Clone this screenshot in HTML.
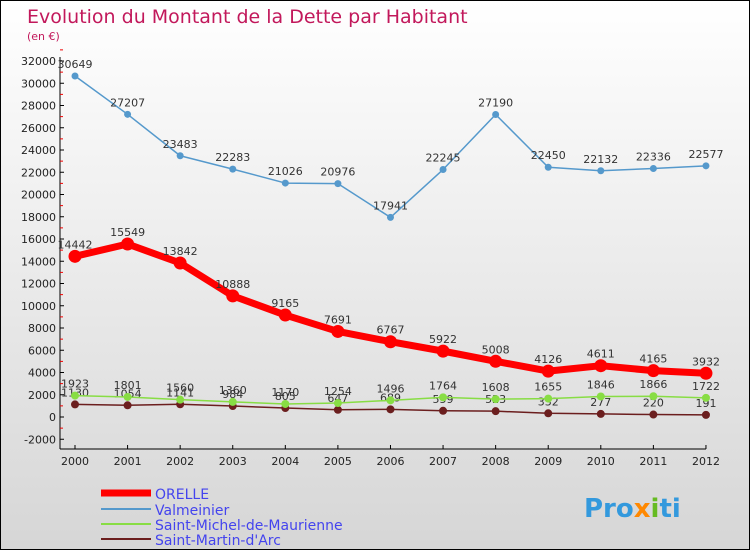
<!DOCTYPE html>
<html><head><meta charset="utf-8"><style>
body{margin:0}
#c{width:748px;height:548px;border:1px solid #000;background:linear-gradient(#ffffff,#d6d6d6);position:relative;font-family:"DejaVu Sans","Liberation Sans",sans-serif;overflow:hidden}
svg text{font-family:"DejaVu Sans","Liberation Sans",sans-serif}
</style></head><body>
<div id="c">
<svg id="s" width="748" height="548" xmlns="http://www.w3.org/2000/svg">
<text x="26" y="22" font-size="19" fill="#c2185b">Evolution du Montant de la Dette par Habitant</text>
<text x="26" y="39" font-size="11" fill="#c2185b">(en €)</text>
<g id="axes"></g><g id="series"></g>
<g>
<line x1="100" y1="492" x2="150" y2="492" stroke="#ff0000" stroke-width="7"/>
<text x="154" y="498" font-size="14" fill="#4444ee">ORELLE</text>
<line x1="100" y1="508" x2="150" y2="508" stroke="#5599cc" stroke-width="2"/>
<text x="154" y="514" font-size="14" fill="#4444ee">Valmeinier</text>
<line x1="100" y1="523" x2="150" y2="523" stroke="#88dd44" stroke-width="2"/>
<text x="154" y="529" font-size="14" fill="#4444ee">Saint-Michel-de-Maurienne</text>
<line x1="100" y1="538" x2="150" y2="538" stroke="#6b1e1e" stroke-width="2"/>
<text x="154" y="544" font-size="14" fill="#4444ee">Saint-Martin-d'Arc</text>
</g>
<text x="583" y="516" font-size="26" font-weight="bold" fill="#3399dd">Pro<tspan fill="#ff8800">x</tspan><tspan fill="#66bb22">i</tspan>ti</text>
</svg></div>
<script>
const years=[2000,2001,2002,2003,2004,2005,2006,2007,2008,2009,2010,2011,2012];
const yTicks=[-2000,0,2000,4000,6000,8000,10000,12000,14000,16000,18000,20000,22000,24000,26000,28000,30000,32000];
const orelle=[14442,15549,13842,10888,9165,7691,6767,5922,5008,4126,4611,4165,3932];
const valmeinier=[30649,27207,23483,22283,21026,20976,17941,22245,27190,22450,22132,22336,22577];
const stMichel=[1923,1801,1560,1360,1170,1254,1496,1764,1608,1655,1846,1866,1722];
const stMartin=[1130,1054,1141,984,805,647,689,559,523,332,277,220,191];
const NS="http://www.w3.org/2000/svg";
const X=i=>74+i*52.58, Y=v=>416-v*0.011125;
function mk(t,a,p){const e=document.createElementNS(NS,t);for(const k in a)e.setAttribute(k,a[k]);p.appendChild(e);return e;}
const ax=document.getElementById('axes'), sg=document.getElementById('series');
mk('line',{x1:59,y1:Y(32000)-4,x2:59,y2:448,stroke:'#000'},ax);
mk('line',{x1:59,y1:448,x2:X(12),y2:448,stroke:'#000'},ax);
yTicks.forEach(v=>{
 const t=mk('text',{x:55,y:Y(v)+4,'font-size':11,'text-anchor':'end',fill:'#222'},ax);t.textContent=v;
 
 
 mk('line',{x1:59,y1:Y(v),x2:63,y2:Y(v),stroke:'#000'},ax);
 mk('line',{x1:59,y1:Y(v+1000),x2:62,y2:Y(v+1000),stroke:'#e00'},ax);
});
years.forEach((yr,i)=>{
 mk('line',{x1:X(i),y1:444,x2:X(i),y2:448,stroke:'#000'},ax);
 const t=mk('text',{x:X(i),y:464,'font-size':11,'text-anchor':'middle',fill:'#222'},ax);t.textContent=yr;
 
 
});
function series(d,col,w,r,name){
 const g=mk('g',{},sg);
 
 
 mk('polyline',{points:d.map((v,i)=>X(i)+','+Y(v)).join(' '),fill:'none',stroke:col,'stroke-width':w,'stroke-linejoin':'round'},g);
 d.forEach((v,i)=>{
  const c=mk('circle',{cx:X(i),cy:Y(v),r:r,fill:col},g);
  
  
  const t=mk('text',{x:X(i),y:Y(v)-8,'font-size':11,'text-anchor':'middle',fill:'#333'},g);t.textContent=v;
  
  
 });
}
series(stMartin,'#6b1e1e',1.5,4,'saint-martin-series');
series(stMichel,'#88dd44',1.5,4,'saint-michel-series');
series(valmeinier,'#5599cc',1.5,3.5,'valmeinier-series');
series(orelle,'#ff0000',7,6.5,'orelle-series');
</script>
</body></html>
